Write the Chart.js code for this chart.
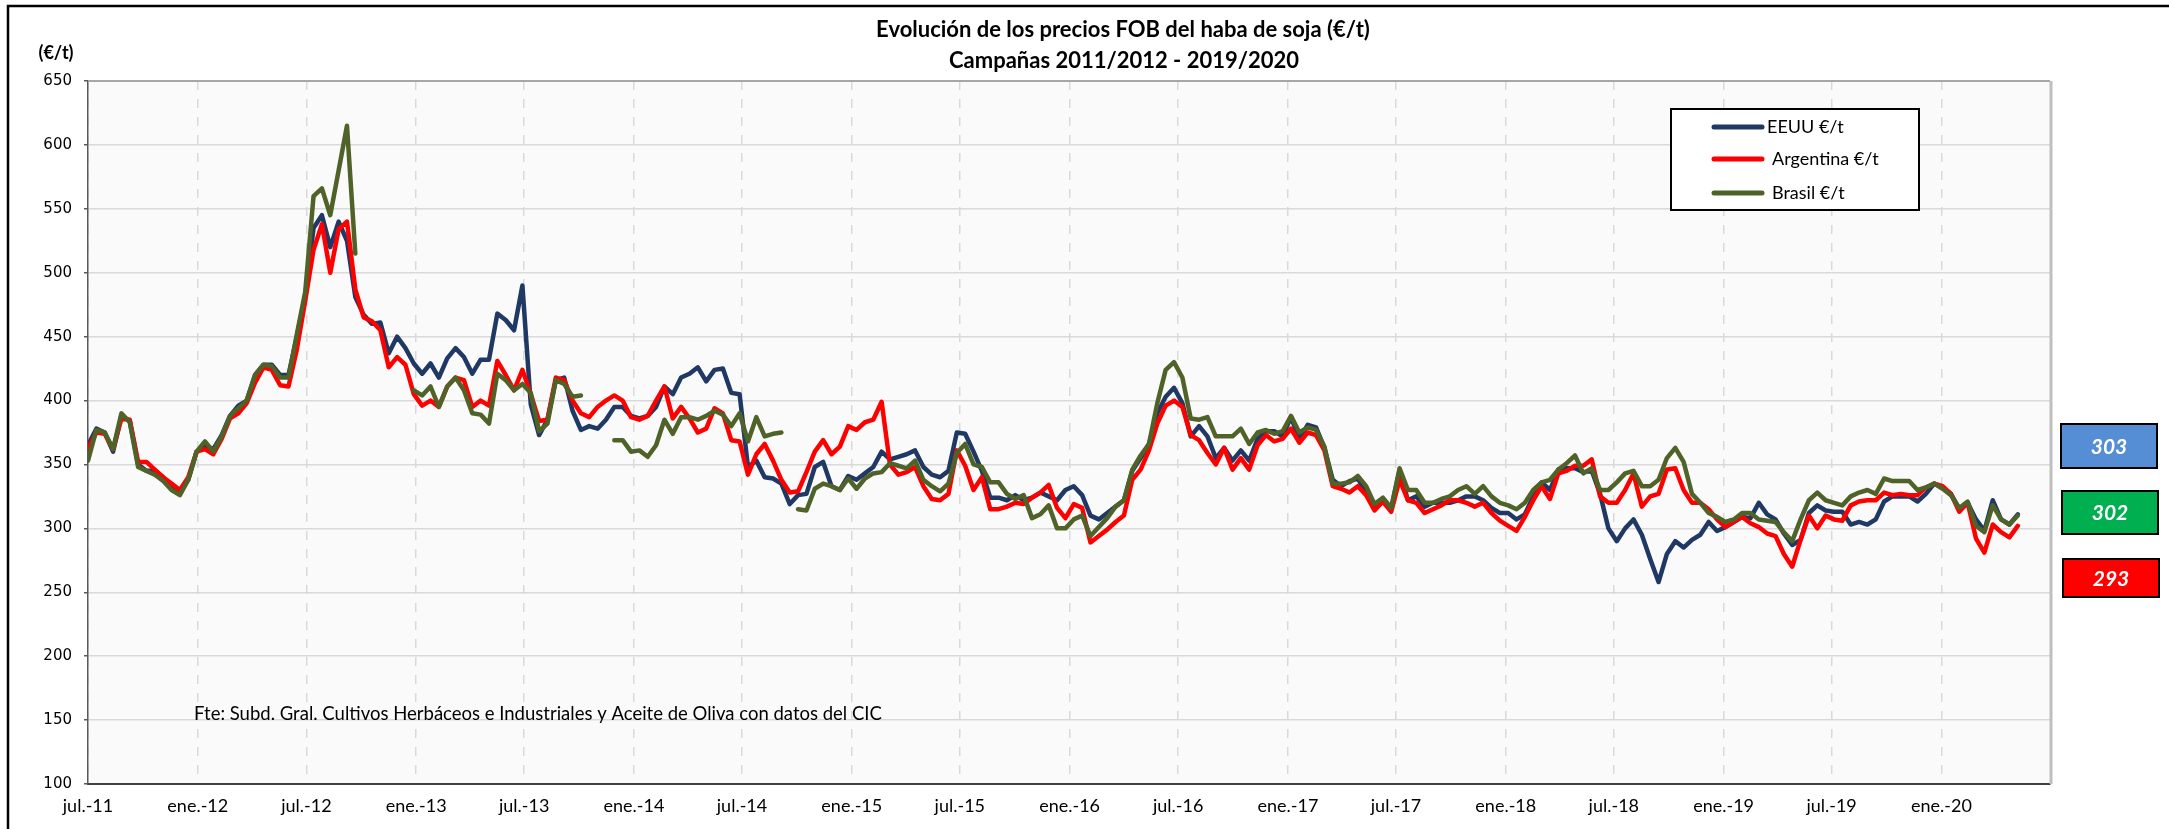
<!DOCTYPE html>
<html lang="es">
<head>
<meta charset="utf-8">
<title>Evolución de los precios FOB del haba de soja</title>
<script src="https://cdn.jsdelivr.net/npm/chart.js@4.4.1/dist/chart.umd.min.js"></script>
<style>
  html, body { margin: 0; padding: 0; background: #fff; }
  #wrap { width: 2169px; height: 829px; }
</style>
</head>
<body>
<div id="wrap"><canvas id="precios" width="2169" height="829"></canvas></div>
<script>
// fechas: una observación cada 2 semanas desde julio 2011
const fechaInicio = Date.UTC(2011, 6, 1);
const pasoDias = 14;
const fechaFin = Date.UTC(2020, 6, 1);

const etiquetasX = ['jul.-11', 'ene.-12', 'jul.-12', 'ene.-13', 'jul.-13', 'ene.-14', 'jul.-14', 'ene.-15', 'jul.-15',
  'ene.-16', 'jul.-16', 'ene.-17', 'jul.-17', 'ene.-18', 'jul.-18', 'ene.-19', 'jul.-19', 'ene.-20'];

const series = ['EEUU €/t', 'Argentina €/t', 'Brasil €/t'];
const colores = ['#1F3864', '#FF0000', '#4F6228'];

const eeuu = [
  365, 378, 375, 360, 388, 384, 350, 345, 345, 340,
  332, 328, 338, 360, 365, 362, 373, 388, 396, 400,
  420, 428, 428, 420, 420, 450, 482, 535, 545, 520,
  540, 525, 481, 467, 460, 461, 437, 450, 441, 429,
  421, 429, 418, 433, 441, 434, 421, 432, 432, 468,
  463, 455, 490, 397, 373, 385, 416, 418, 392, 377,
  380, 378, 385, 395, 395, 388, 386, 388, 395, 411,
  405, 418, 421, 426, 415, 424, 425, 406, 405, 348,
  353, 340, 339, 335, 319, 326, 327, 348, 352, 333,
  330, 341, 338, 343, 348, 360, 354, 356, 358, 361,
  348, 342, 340, 345, 375, 374, 360, 345, 324, 324,
  322, 326, 322, 324, 328, 325, 322, 330, 333, 326,
  310, 307, 312, 317, 322, 345, 355, 366, 390, 403,
  410, 398, 372, 380, 372, 355, 363, 353, 361, 353,
  370, 376, 376, 372, 387, 370, 381, 379, 363, 338,
  333, 337, 339, 328, 317, 322, 316, 345, 322, 325,
  317, 320, 320, 320, 322, 325, 325, 322, 316, 312,
  312, 307, 311, 325, 336, 330, 346, 347, 347, 344,
  345, 327, 300, 290, 300, 307, 295, 276, 258, 280,
  290, 285, 291, 295, 305, 298, 301, 305, 309, 308,
  320, 311, 307, 296, 287, 291, 312, 318, 314, 313,
  313, 303, 305, 303, 307, 321, 325, 325, 325, 321,
  327, 335, 332, 327, 315, 320, 307, 298, 322, 307,
  303, 311
];

const argentina = [
  362, 375, 374, 362, 386, 385, 352, 352, 346, 340,
  335, 330, 340, 360, 362, 358, 370, 386, 390, 398,
  414, 426, 424, 412, 411, 440, 478, 518, 538, 500,
  534, 540, 487, 465, 462, 455, 426, 434, 428, 405,
  396, 400, 395, 411, 418, 416, 395, 400, 396, 431,
  420, 408, 424, 405, 384, 385, 418, 416, 400, 390,
  387, 395, 400, 404, 400, 387, 385, 388, 400, 411,
  386, 395, 386, 375, 378, 394, 390, 369, 368, 342,
  358, 366, 353, 338, 328, 329, 344, 360, 369, 358,
  364, 380, 377, 383, 385, 399, 350, 342, 344, 348,
  333, 323, 322, 327, 361, 349, 330, 340, 315, 315,
  317, 320, 319, 324, 328, 334, 316, 308, 319, 316,
  289, 294, 299, 305, 310, 338, 346, 361, 382, 396,
  400, 395, 373, 369, 359, 350, 363, 346, 355, 346,
  365, 373, 368, 370, 378, 367, 375, 373, 361, 333,
  331, 328, 333, 326, 314, 321, 313, 338, 322, 320,
  312, 315, 318, 322, 322, 320, 317, 320, 312, 306,
  302, 298, 309, 322, 333, 323, 343, 345, 349, 349,
  354, 325, 320, 320, 330, 343, 317, 325, 327, 346,
  347, 330, 320, 320, 315, 307, 301, 305, 309, 304,
  301, 296, 294, 280, 270, 291, 310, 300, 310, 307,
  306, 318, 321, 322, 322, 328, 326, 327, 326, 326,
  332, 335, 333, 327, 313, 320, 292, 281, 303, 297,
  293, 302
];

const brasil = [
  353, 377, 375, 362, 390, 383, 348, 345, 342, 337,
  330, 326, 338, 360, 368, 360, 372, 388, 394, 400,
  420, 428, 427, 418, 418, 452, 485, 560, 566, 545,
  580, 615, 515, null, null, null, null, null, null, 408,
  404, 411, 395, 411, 418, 408, 390, 389, 382, 421,
  416, 408, 413, 406, 376, 382, 416, 413, 403, 404,
  null, null, null, 369, 369, 360, 361, 356, 365, 385,
  374, 387, 387, 385, 388, 392, 389, 380, 390, 368,
  387, 372, 374, 375, null, 315, 314, 331, 335, 333,
  330, 339, 331, 339, 343, 344, 351, 349, 347, 353,
  338, 333, 329, 335, 359, 366, 350, 348, 336, 336,
  327, 323, 326, 308, 311, 318, 300, 300, 307, 310,
  294, 301, 308, 317, 322, 346, 357, 366, 398, 424,
  430, 418, 386, 385, 387, 372, 372, 372, 378, 366,
  375, 377, 374, 376, 388, 375, 379, 377, 364, 335,
  335, 336, 341, 333, 319, 324, 316, 347, 330, 330,
  320, 320, 323, 325, 330, 333, 327, 333, 325, 320,
  318, 315, 320, 330, 336, 338, 346, 351, 357, 343,
  347, 330, 330, 336, 343, 345, 333, 333, 338, 355,
  363, 352, 327, 320, 312, 309, 305, 307, 312, 312,
  307, 306, 305, 297, 290, 307, 322, 328, 322, 320,
  318, 325, 328, 330, 327, 339, 337, 337, 337, 330,
  332, 335, 331, 326, 316, 321, 302, 297, 318, 307,
  303, 310
];

// última cotización de cada serie (EEUU, Argentina, Brasil)
const ultimos = [303, 293, 302];
// cajas de arriba abajo: EEUU, Brasil, Argentina
const ordenCajas = [0, 2, 1];
const coloresCaja = ['#558ED5', '#00B050', '#FF0000'];

const fuente = 'Fte: Subd. Gral. Cultivos Herbáceos e Industriales y Aceite de Oliva con datos del CIC';
const titulo = ['Evolución de los precios FOB del haba de soja (€/t)', 'Campañas 2011/2012 - 2019/2020'];

const DIA = 86400000;
const totalDias = (fechaFin - fechaInicio) / DIA;
const diasTicks = etiquetasX.map(function (e, k) {
  const anio = 2011 + Math.floor((k + 1) / 2);
  const mes = k % 2 === 0 ? 6 : 0;
  return (Date.UTC(anio, mes, 1) - fechaInicio) / DIA;
});

function aPuntos(valores) {
  return valores.map(function (v, i) { return { x: i * pasoDias, y: v }; });
}

const datos = [eeuu, argentina, brasil];

const decorado = {
  id: 'decorado',
  beforeDraw(chart) {
    const { ctx, chartArea: a } = chart;
    ctx.save();
    ctx.fillStyle = '#ffffff';
    ctx.fillRect(0, 0, chart.width, chart.height);
    ctx.fillStyle = '#fafafa';
    ctx.fillRect(a.left, a.top, a.right - a.left, a.bottom - a.top);
    ctx.restore();
  },
  afterDraw(chart) {
    const { ctx, chartArea: a } = chart;
    ctx.save();
    // marco exterior
    ctx.strokeStyle = '#000';
    ctx.lineWidth = 2.5;
    ctx.beginPath();
    ctx.moveTo(8, chart.height);
    ctx.lineTo(8, 6);
    ctx.lineTo(chart.width, 6);
    ctx.stroke();
    // bordes del área de trazado
    ctx.strokeStyle = '#a6a6a6';
    ctx.lineWidth = 2;
    ctx.beginPath();
    ctx.moveTo(a.left, a.top);
    ctx.lineTo(a.right, a.top);
    ctx.stroke();
    ctx.strokeStyle = '#bfbfbf';
    ctx.lineWidth = 3;
    ctx.beginPath();
    ctx.moveTo(a.right + 1, a.top);
    ctx.lineTo(a.right + 1, a.bottom);
    ctx.stroke();

    // títulos
    ctx.fillStyle = '#000';
    ctx.textAlign = 'center';
    ctx.textBaseline = 'middle';
    ctx.font = 'bold 22px Lato';
    ctx.fillText(titulo[0], 1123, 30);
    ctx.fillText(titulo[1], 1124, 61);
    ctx.font = 'bold 18px Lato';
    ctx.fillText('(€/t)', 56, 53);

    // fuente
    ctx.textAlign = 'left';
    ctx.font = '18.5px Lato';
    ctx.fillText(fuente, 194, 714);

    // leyenda
    ctx.fillStyle = '#fff';
    ctx.fillRect(1671, 109, 248, 101);
    ctx.strokeStyle = '#000';
    ctx.lineWidth = 2;
    ctx.strokeRect(1671, 109, 248, 101);
    const filas = [127, 159, 193];
    chart.data.datasets.forEach(function (ds, i) {
      ctx.strokeStyle = ds.borderColor;
      ctx.lineWidth = 5;
      ctx.lineCap = 'round';
      ctx.beginPath();
      ctx.moveTo(1714, filas[i]);
      ctx.lineTo(1762, filas[i]);
      ctx.stroke();
      ctx.fillStyle = '#000';
      ctx.font = '18px Lato';
      ctx.fillText(ds.label, i === 0 ? 1767 : 1772, filas[i]);
    });

    // cajas con la última cotización
    const cajas = [[2061, 424, 44], [2062, 491, 43], [2063, 559, 38]];
    ctx.lineCap = 'butt';
    cajas.forEach(function (c, k) {
      const s = ordenCajas[k];
      ctx.fillStyle = coloresCaja[k];
      ctx.fillRect(c[0], c[1], 96, c[2]);
      ctx.strokeStyle = '#000';
      ctx.lineWidth = 2;
      ctx.strokeRect(c[0], c[1], 96, c[2]);
      ctx.fillStyle = '#fff';
      ctx.textAlign = 'center';
      ctx.font = 'italic bold 21px Lato';
      ctx.fillText(String(ultimos[s]), c[0] + 48, c[1] + c[2] / 2 + 1);
    });
    ctx.restore();
  }
};

new Chart(document.getElementById('precios'), {
  type: 'line',
  data: {
    datasets: datos.map(function (d, i) {
      return {
        label: series[i],
        data: aPuntos(d),
        borderColor: colores[i],
        backgroundColor: colores[i],
        borderWidth: 4.5,
        pointRadius: 0,
        tension: 0,
        borderJoinStyle: 'round',
        borderCapStyle: 'round',
        spanGaps: false,
        order: 3 - i
      };
    })
  },
  options: {
    responsive: false,
    animation: false,
    layout: { padding: { left: 0, right: 119, top: 81, bottom: 0 } },
    plugins: {
      legend: { display: false },
      title: { display: false },
      tooltip: { enabled: false }
    },
    scales: {
      x: {
        type: 'linear',
        min: 0,
        max: totalDias,
        afterBuildTicks(s) { s.ticks = diasTicks.map(function (v) { return { value: v }; }); },
        afterFit(s) { s.height = 45; },
        ticks: {
          autoSkip: false,
          maxRotation: 0,
          padding: 11,
          color: '#000',
          font: { family: 'Lato', size: 18 },
          callback: function (v, i) { return etiquetasX[i]; }
        },
        grid: { color: '#d9d9d9', lineWidth: 1.5, drawTicks: false },
        border: { color: '#404040', width: 2, dash: [9, 9] }
      },
      y: {
        min: 100,
        max: 650,
        afterFit(s) { s.width = 88; },
        ticks: {
          stepSize: 50,
          padding: 12,
          color: '#000',
          font: { family: 'DejaVu Sans', size: 15 }
        },
        grid: { color: '#d9d9d9', lineWidth: 1.5, tickColor: '#595959', tickLength: 4 },
        border: { color: '#595959', width: 1.5 }
      }
    }
  },
  plugins: [decorado]
});
</script>
</body>
</html>
